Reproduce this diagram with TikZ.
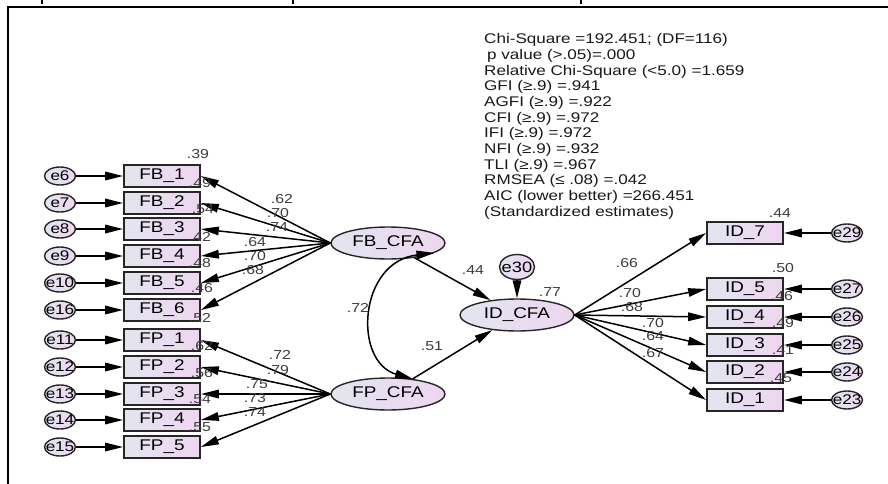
\documentclass[tikz,border=0pt]{standalone}
\usepackage{fontspec}
\setmainfont{Liberation Sans}[FakeStretch=1.22]
\usetikzlibrary{shapes.geometric,arrows.meta}
\definecolor{shadeleft}{RGB}{226,229,240}
\definecolor{shaderight}{RGB}{238,214,240}
\definecolor{numgray}{RGB}{60,60,60}
\newcommand{\errlbl}[1]{\makebox[0pt]{#1}}

\begin{document}
\begin{tikzpicture}[x=1pt,y=-1pt,
  obs/.style={draw=black!85,line width=1.7pt,left color=shadeleft,right color=shaderight,
    minimum width=76pt,minimum height=22pt,inner sep=0pt,font=\fontsize{15.5}{15.5}\selectfont},
  err/.style={ellipse,draw=black!85,line width=1.4pt,left color=shadeleft,right color=shaderight,
    minimum width=31pt,minimum height=18pt,inner sep=0pt,font=\fontsize{14}{14}\selectfont},
  lat/.style={ellipse,draw=black!85,line width=1.4pt,left color=shadeleft,right color=shaderight,
    minimum width=114pt,minimum height=32pt,inner sep=0pt,font=\fontsize{15.5}{15.5}\selectfont},
  est/.style={text=numgray,inner sep=0pt,font=\fontsize{13}{13}\selectfont},
  stat/.style={anchor=west,inner sep=0pt,text=black!90,font=\fontsize{14}{14}\selectfont},
  arr/.style={line width=1.5pt,-{Triangle[length=18pt,width=8.5pt]}},
  dblarr/.style={line width=1.5pt,{Triangle[length=18pt,width=8.5pt]}-{Triangle[length=18pt,width=8.5pt]}}]
  \fill[white] (0,0) rectangle (888,484);
  \useasboundingbox (0,0) rectangle (888,484);
  % frame and cut-off marks
  \draw[line width=1.6pt] (8,484) -- (8,7) -- (888,7);
  \foreach \x in {42,293,581}
    \draw[line width=1.2pt] (\x,0) -- (\x,4);

  % fit statistics
  \foreach \s [count=\i from 0] in {{Chi-Square =192.451; (DF=116)},{\hspace{3pt}p value (>.05)=.000},
      {Relative Chi-Square (<5.0) =1.659},{GFI (≥.9) =.941},{AGFI (≥.9) =.922},{CFI (≥.9) =.972},
      {IFI (≥.9) =.972},{NFI (≥.9) =.932},{TLI (≥.9) =.967},{RMSEA (≤ .08) =.042},
      {AIC (lower better) =266.451},{(Standardized estimates)}}
    \node[stat] (stat\i) at (484,{40+15.7*\i}) {\s};

  % latent variables
  \node[lat] (fbcfa) at (388,243) {FB\_CFA};
  \node[lat] (fpcfa) at (388,394) {FP\_CFA};
  \node[lat] (idcfa) at (517,315) {ID\_CFA};
  \node[err,minimum width=35pt,minimum height=25pt,font=\fontsize{15}{15}\selectfont] (e30) at (517,267) {\errlbl{e30}};

  % FB indicators
  \foreach \k/\e/\y in {1/6/176,2/7/203,3/8/229,4/9/256,5/10/283,6/16/310}{
    \node[obs] (fb\k) at (162,\y) {FB\_\k};
    \node[err] (e\e) at (60,\y) {\errlbl{e\e}};
    \draw[arr] (e\e) -- (fb\k);
    \draw[arr] (fbcfa.west) -- (fb\k.east);
  }
  % FP indicators
  \foreach \k/\e/\y in {1/11/340,2/12/367,3/13/394,4/14/420,5/15/447}{
    \node[obs] (fp\k) at (162,\y) {FP\_\k};
    \node[err] (e\e) at (60,\y) {\errlbl{e\e}};
    \draw[arr] (e\e) -- (fp\k);
    \draw[arr] (fpcfa.west) -- (fp\k.east);
  }
  % ID indicators
  \foreach \k/\e/\y in {7/29/233,5/27/289,4/26/317,3/25/345,2/24/372,1/23/400}{
    \node[obs] (id\k) at (745,\y) {ID\_\k};
    \node[err] (e\e) at (847,\y) {\errlbl{e\e}};
    \draw[arr] (e\e) -- (id\k);
    \draw[arr] (idcfa.east) -- (id\k.west);
  }

  % structural paths
  \draw[arr] (fbcfa) -- (idcfa);
  \draw[arr] (fpcfa) -- (idcfa);
  \draw[arr] (e30) -- (idcfa);
  \draw[dblarr] (fbcfa.-12) .. controls (358,262) and (353,362) .. (fpcfa.31);

  % estimates
  \foreach \t/\x/\y [count=\n] in {.39/198/154,.49/200/183,.54/203/209,.42/200/237,.48/200/263,
      .46/202/288,.52/200/318,.62/202/346,.56/202/373,.54/200/399,.55/200/427,
      .62/282/199,.70/278/213,.74/277/227,.64/255/242,.70/255/256,.68/253/270,
      .72/280/355,.79/278/370,.75/257/384,.73/255/398,.74/255/412,
      .72/358/308,.51/432/346,.44/473/270,.77/550/292,
      .66/627/263,.70/630/293,.68/632/307,.70/653/323,.64/653/336,.67/653/353,
      .44/780/213,.50/783/268,.46/782/296,.49/783/323,.41/783/350,.45/781/378}
    \node[est] (est\n) at (\x,\y) {\t};
\end{tikzpicture}
\end{document}
